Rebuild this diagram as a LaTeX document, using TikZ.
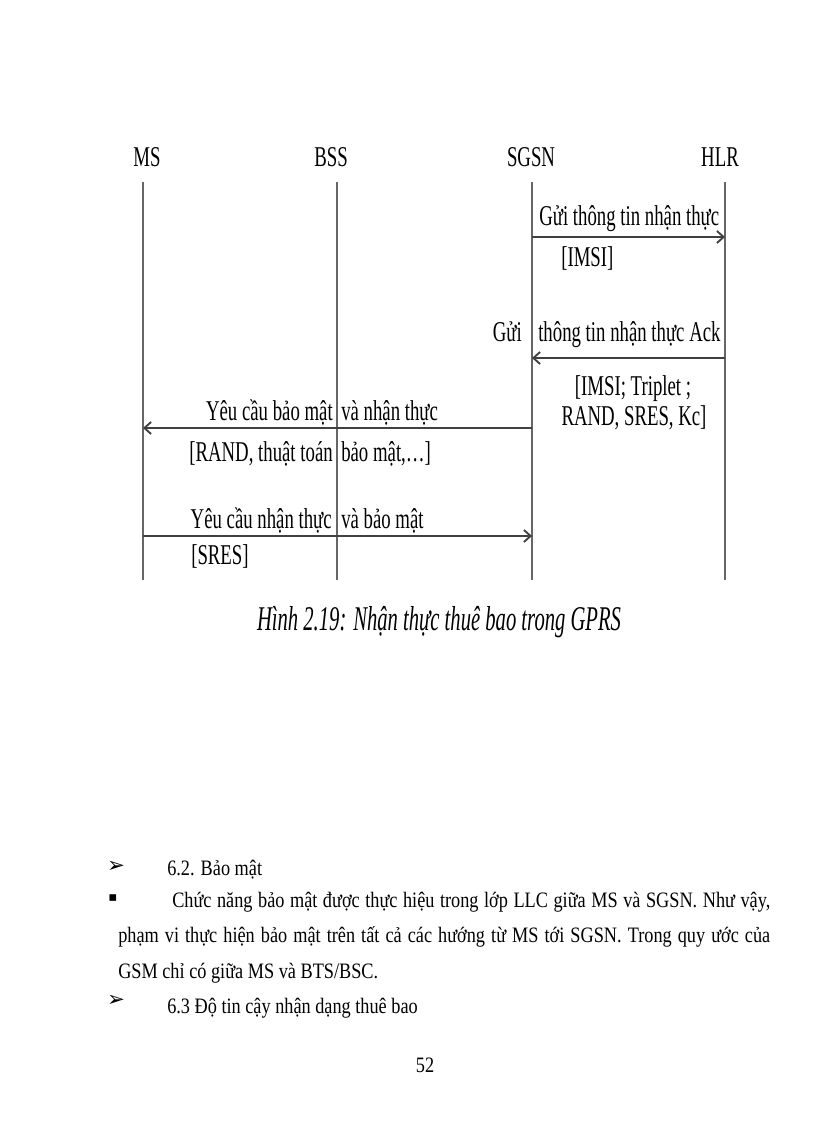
\documentclass[tikz,border=0pt]{standalone}
\usepackage{fontspec}
\setmainfont{Liberation Serif}
\newfontfamily\dgfont[FakeStretch=0.655]{Liberation Serif}
\newfontfamily\capfont[FakeStretch=0.595]{Liberation Serif}
\newfontfamily\bodyfont[FakeStretch=0.83]{Liberation Serif}
\newfontfamily\symfont{DejaVu Sans}
\usetikzlibrary{arrows.meta}
\begin{document}
\begin{tikzpicture}[x=0.75pt,y=-0.75pt,
  dg/.style={font=\dgfont\fontsize{21.5}{24}\selectfont, inner sep=0pt, text=black},
  life/.style={draw=black!60, line width=0.8pt},
  msg/.style={draw=black!75, line width=1.4pt, -{Straight Barb[length=5pt,width=9pt]}},
  body/.style={font=\bodyfont\fontsize{16.5}{19}\selectfont, inner sep=0pt, anchor=base west},
  bul/.style={font=\symfont\fontsize{16}{18}\selectfont, inner sep=0pt}]
\useasboundingbox (0,0) rectangle (816,1123);

% heads
\node[dg] (hMS)   at (147,157) {MS};
\node[dg] (hBSS)  at (331,157) {BSS};
\node[dg] (hSGSN) at (531,157) {SGSN};
\node[dg] (hHLR)  at (720,157) {HLR};

% lifelines
\foreach \n/\x in {ms/143, bss/337, sgsn/532, hlr/725} {
  \coordinate (\n-top) at (\x,182);
  \coordinate (\n-bot) at (\x,580);
  \coordinate (\n-1) at (\x,237);
  \coordinate (\n-2) at (\x,358);
  \coordinate (\n-3) at (\x,428);
  \coordinate (\n-4) at (\x,536);
  \draw[life] (\n-top) -- (\n-bot);
}

% message 1
\draw[msg] (sgsn-1) -- (hlr-1);
\node[dg, anchor=base west] (m1a) at (539,226) {Gửi thông tin nhận thực};
\node[dg, anchor=base west] (m1b) at (561,266) {[IMSI]};

% message 2
\draw[msg] (hlr-2) -- (sgsn-2);
\node[dg, anchor=base east] (m2a) at (522,341) {Gửi};
\node[dg, anchor=base west] (m2b) at (538,341) {thông tin nhận thực Ack};
\node[dg, anchor=base] (m2c) at (633,395) {[IMSI; Triplet ;};
\node[dg, anchor=base] (m2d) at (634,425) {RAND, SRES, Kc]};

% message 3
\draw[msg] (sgsn-3) -- (ms-3);
\node[dg, anchor=base east] (m3a) at (333,420) {Yêu cầu bảo mật};
\node[dg, anchor=base west] (m3b) at (341,420) {và nhận thực};
\node[dg, anchor=base east] (m3c) at (333,461) {[RAND, thuật toán};
\node[dg, anchor=base west] (m3d) at (341,461) {bảo mật,…]};

% message 4
\draw[msg] (ms-4) -- (sgsn-4);
\node[dg, anchor=base east] (m4a) at (332,528) {Yêu cầu nhận thực};
\node[dg, anchor=base west] (m4b) at (341,528) {và bảo mật};
\node[dg, anchor=base west] (m4c) at (191,564) {[SRES]};

% caption
\node[font=\capfont\itshape\fontsize{26}{29}\selectfont, inner sep=0pt, anchor=base] (cap) at (439,630) {Hình 2.19: Nhận thực thuê bao trong GPRS};

% body text
\node[bul] (b1) at (116,867) {➢};
\node[body] (t1) at (167,875) {6.2. Bảo mật};
\node[bul, font=\symfont\fontsize{10}{12}\selectfont] (b2) at (113,898) {▪};
\node[body] (t2) at (172,907) {\makebox[448.5pt][s]{Chức năng bảo mật được thực hiệu trong lớp LLC giữa MS và SGSN. Như vậy,}};
\node[body] (t3) at (118,942) {\makebox[489pt][s]{phạm vi thực hiện bảo mật trên tất cả các hướng từ MS tới SGSN. Trong quy ước của}};
\node[body] (t4) at (118,978) {GSM chỉ có giữa MS và BTS/BSC.};
\node[bul] (b3) at (116,1001) {➢};
\node[body] (t5) at (167,1013) {6.3 Độ tin cậy nhận dạng thuê bao};
\node[body, anchor=base] (pg) at (425,1072) {52};
\end{tikzpicture}
\end{document}
